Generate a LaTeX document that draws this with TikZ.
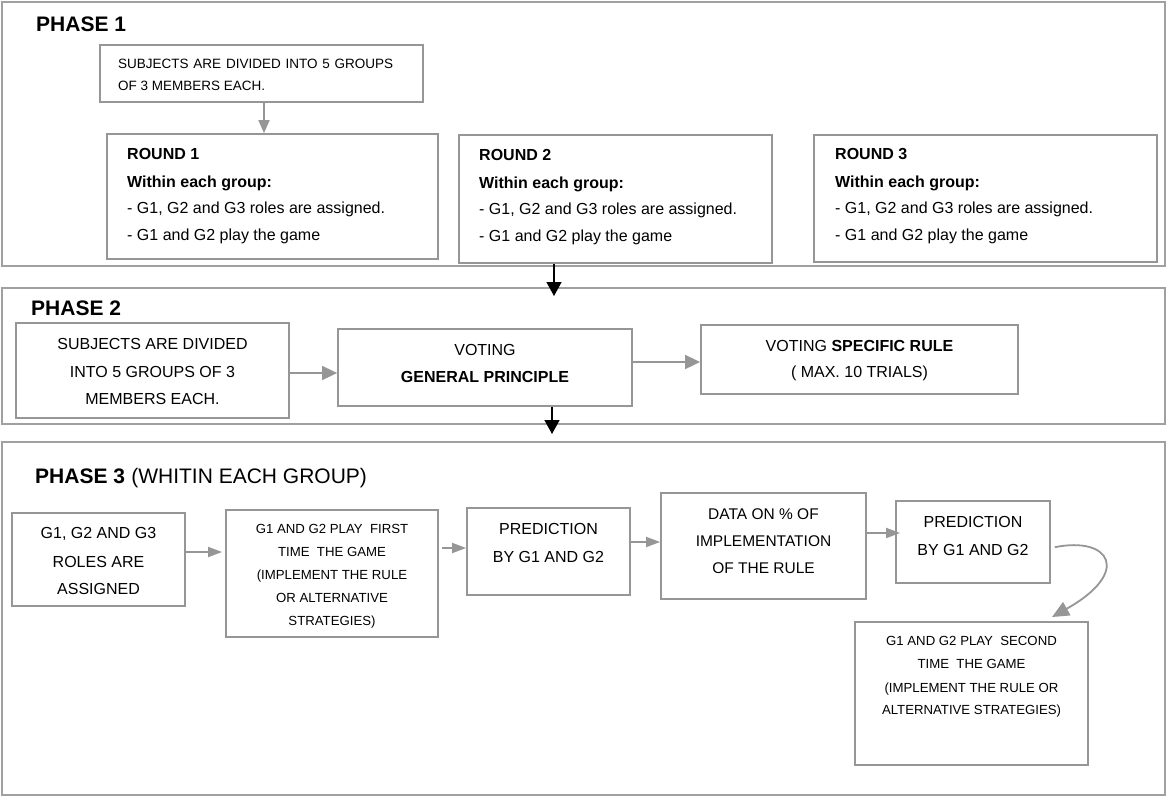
\documentclass[tikz,border=0pt]{standalone}
\usepackage{fontspec}
\setmainfont{Liberation Sans}
\usetikzlibrary{arrows.meta,fit}
\definecolor{boxgray}{RGB}{150,150,150}
\definecolor{framegray}{RGB}{160,160,160}
\definecolor{arrgray}{RGB}{150,150,150}
\begin{document}
\begin{tikzpicture}[x=1pt,y=-1pt,
  gbox/.style={draw=boxgray,line width=1.8pt,inner sep=0pt},
  phaseframe/.style={draw=framegray,line width=1.8pt,inner sep=0pt},
  hd/.style={font=\fontsize{21}{25}\selectfont\bfseries,inner sep=0pt,anchor=base west},
  tphase/.style={font=\fontsize{21}{25}\selectfont,inner sep=0pt,anchor=base west},
  fa/.style={font=\fontsize{16}{19}\selectfont,inner sep=0pt,anchor=base},
  fb/.style={font=\fontsize{15.5}{19}\selectfont,inner sep=0pt,anchor=base},
  fsmall/.style={font=\fontsize{13.2}{16}\selectfont,inner sep=0pt,anchor=base},
  fp/.style={font=\fontsize{13.5}{16}\selectfont,inner sep=0pt,anchor=base west},
  fr/.style={font=\fontsize{16}{19}\selectfont,inner sep=0pt,anchor=base west},
  frb/.style={font=\fontsize{16}{19}\selectfont\bfseries,inner sep=0pt,anchor=base west},
  garrA/.style={draw=arrgray,line width=1.8pt,-{Triangle[length=13pt,width=11pt]},arrgray},
  garrB/.style={draw=arrgray,line width=1.8pt,-{Triangle[length=15pt,width=14pt]},arrgray},
  garrC/.style={draw=arrgray,line width=1.8pt,-{Triangle[length=14pt,width=10pt]},arrgray},
  barr/.style={draw=black,line width=1.4pt,-{Triangle[length=14pt,width=15pt]}}
]
\useasboundingbox (0,0) rectangle (1168,796);
\fill[white] (0,0) rectangle (1168,796);

% ---------------- PHASE 1 ----------------
\node[phaseframe, fit={(2,2) (1165,266)}] (fr1) {};
\node[hd] (h1) at (36,31) {PHASE 1};

\node[gbox, fit={(100,45) (423,102)}] (p1box) {};
\node[fp] (p1a) at (118,68) {\makebox[275pt][s]{SUBJECTS ARE DIVIDED INTO 5 GROUPS}};
\node[fp] (p1b) at (118,90) {OF 3 MEMBERS EACH.};

\node[gbox, fit={(107,134) (438,259)}] (r1) {};
\node[frb] (r1a) at (127,159) {ROUND 1};
\node[frb] (r1b) at (127,187) {Within each group:};
\node[fr]  (r1c) at (127,213) {- G1, G2 and G3 roles are assigned.};
\node[fr]  (r1d) at (127,240) {- G1 and G2 play the game};

\node[gbox, fit={(459,135) (772,263)}] (r2) {};
\node[frb] (r2a) at (479,160) {ROUND 2};
\node[frb] (r2b) at (479,188) {Within each group:};
\node[fr]  (r2c) at (479,214) {- G1, G2 and G3 roles are assigned.};
\node[fr]  (r2d) at (479,241) {- G1 and G2 play the game};

\node[gbox, fit={(814,135) (1157,262)}] (r3) {};
\node[frb] (r3a) at (835,159) {ROUND 3};
\node[frb] (r3b) at (835,187) {Within each group:};
\node[fr]  (r3c) at (835,213) {- G1, G2 and G3 roles are assigned.};
\node[fr]  (r3d) at (835,240) {- G1 and G2 play the game};

\coordinate (xa) at (264,0);
\draw[garrA] (p1box.south -| xa) -- (r1.north -| xa);

% ---------------- PHASE 2 ----------------
\node[phaseframe, fit={(2,288) (1165,424)}] (fr2) {};
\node[hd] (h2) at (31,315) {PHASE 2};

\node[gbox, fit={(16,323) (289,418)}] (s2) {};
\node[fa] (s2a) at (152.5,349) {SUBJECTS ARE DIVIDED};
\node[fa] (s2b) at (152.5,377) {INTO 5 GROUPS OF 3};
\node[fa] (s2c) at (152.5,404) {MEMBERS EACH.};

\node[gbox, fit={(338,329) (632,406)}] (v1) {};
\node[fa] (v1a) at (485,355) {VOTING};
\node[fa] (v1b) at (485,382) {\bfseries GENERAL PRINCIPLE};

\node[gbox, fit={(701,325) (1018,394)}] (v2) {};
\node[fa] (v2a) at (859.5,351) {VOTING \textbf{SPECIFIC RULE}};
\node[fa] (v2b) at (859.5,377) {( MAX. 10 TRIALS)};

\coordinate (y373) at (0,373);
\coordinate (y362) at (0,362);
\draw[garrB] (s2.east |- y373) -- (v1.west |- y373);
\draw[garrB] (v1.east |- y362) -- (v2.west |- y362);

\coordinate (k1) at (554,296);
\draw[barr] (r2.south -| k1) -- (k1);
\coordinate (k2) at (552,434);
\draw[barr] (v1.south -| k2) -- (k2);

% ---------------- PHASE 3 ----------------
\node[phaseframe, fit={(2,442) (1165,795)}] (fr3) {};
\node[hd] (h3) at (35,483) {PHASE 3};
\node[tphase] (h3b) at (h3.base east) {\ (WHITIN EACH GROUP)};

\node[gbox, fit={(12,513) (185,606)}] (b1) {};
\node[fa] (b1a) at (98.5,538) {G1, G2 AND G3};
\node[fa] (b1b) at (98.5,567) {ROLES ARE};
\node[fa] (b1c) at (98.5,594) {ASSIGNED};

\node[gbox, fit={(226,510) (438,637)}] (b2) {};
\node[fsmall] (b2a) at (332,533) {G1 AND G2 PLAY\ \ FIRST};
\node[fsmall] (b2b) at (332,556) {TIME\ \ THE GAME};
\node[fsmall] (b2c) at (332,579) {(IMPLEMENT THE RULE};
\node[fsmall] (b2d) at (332,602) {OR ALTERNATIVE};
\node[fsmall] (b2e) at (332,625) {STRATEGIES)};

\node[gbox, fit={(467,508) (630,595)}] (b3) {};
\node[fa] (b3a) at (548.5,534) {PREDICTION};
\node[fa] (b3b) at (548.5,562) {BY G1 AND G2};

\node[gbox, fit={(661,493) (866,599)}] (b4) {};
\node[fb] (b4a) at (763.5,519) {DATA ON \% OF};
\node[fb] (b4b) at (763.5,546) {IMPLEMENTATION};
\node[fb] (b4c) at (763.5,573) {OF THE RULE};

\node[gbox, fit={(896,501) (1050,583)}] (b5) {};
\node[fa] (b5a) at (973,527) {PREDICTION};
\node[fa] (b5b) at (973,555) {BY G1 AND G2};

\node[gbox, fit={(855,622) (1088,765)}] (b6) {};
\node[fsmall] (b6a) at (971.5,645) {G1 AND G2 PLAY\ \ SECOND};
\node[fsmall] (b6b) at (971.5,668) {TIME\ \ THE GAME};
\node[fsmall] (b6c) at (971.5,692) {(IMPLEMENT THE RULE OR};
\node[fsmall] (b6d) at (971.5,714) {ALTERNATIVE STRATEGIES)};

\coordinate (y552) at (0,552);
\coordinate (y548) at (0,548);
\coordinate (y542) at (0,542);
\coordinate (y533) at (0,533);
\draw[garrC, shorten >=3pt] (b1.east |- y552) -- (b2.west |- y552);
\draw[garrC, shorten <=3pt] (b2.east |- y548) -- (b3.west |- y548);
\draw[garrC] (b3.east |- y542) -- (b4.west |- y542);
\draw[garrC, shorten >=-5pt] (b4.east |- y533) -- (b5.west |- y533);

\coordinate (c6) at (1052,617);
\draw[draw=arrgray,line width=1.8pt,-{Triangle[length=17pt,width=15pt]},arrgray,shorten <=4pt]
  (b5.east |- y548) .. controls (1110,536) and (1132,572) .. (c6);
\end{tikzpicture}
\end{document}
